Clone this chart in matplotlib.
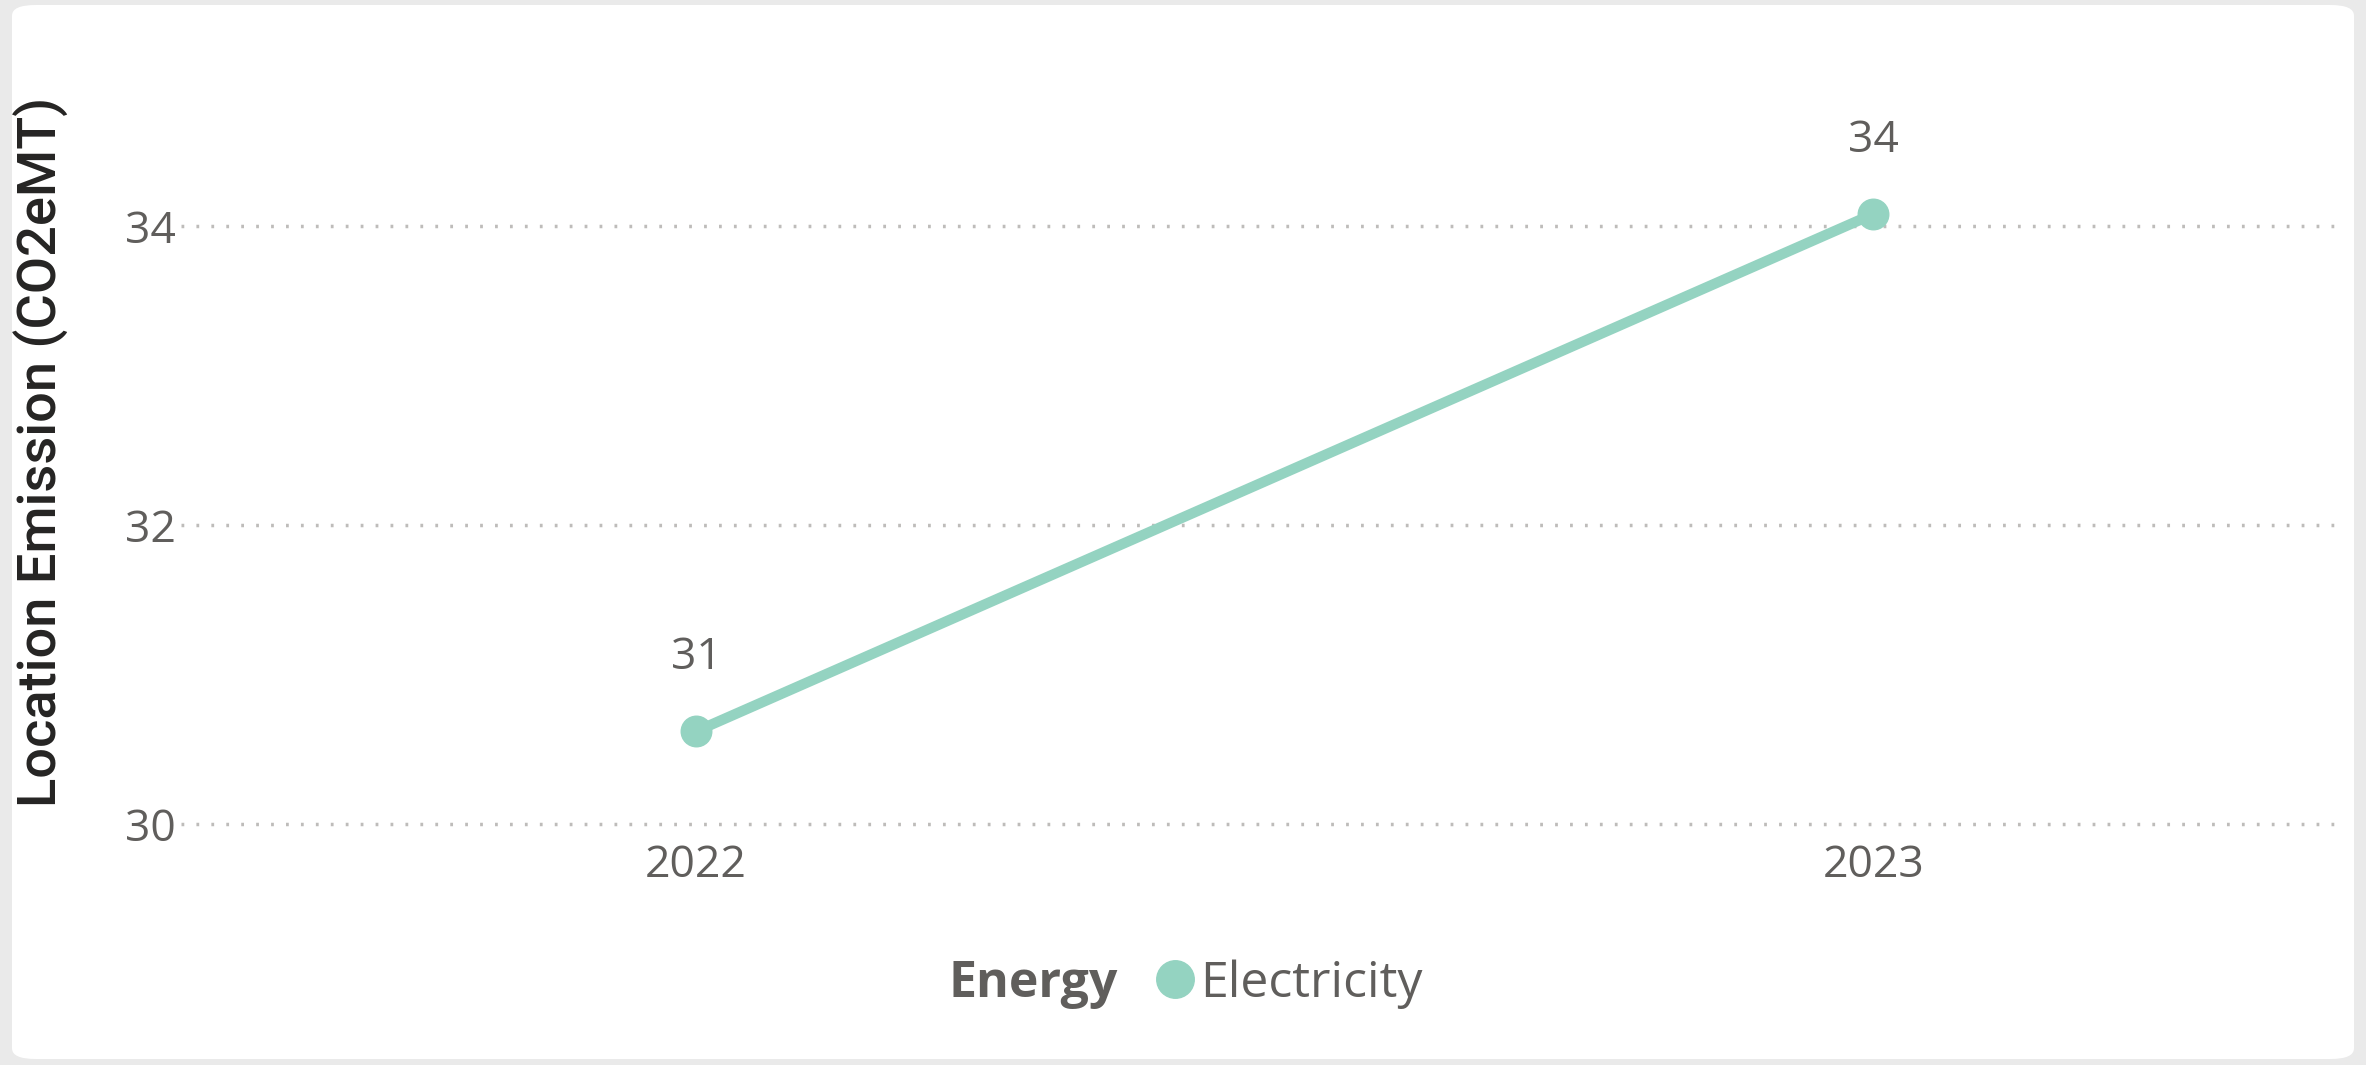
import matplotlib.pyplot as plt
from matplotlib.patches import FancyBboxPatch
from matplotlib.lines import Line2D

# data
years = ['2022', '2023']
emission = [30.62, 34.08]
labels = ['31', '34']
series_name = 'Electricity'
legend_title = 'Energy'
y_ticks = [30, 32, 34]

line_col = '#94D3C1'
text_col = '#605E5C'
grid_col = '#BEBCBA'

W, H = 2366, 1065
fig = plt.figure(figsize=(W / 100, H / 100), dpi=100)
fig.patch.set_facecolor('#EAEAEA')

# white card behind everything
card = FancyBboxPatch((12 / W, 6 / H), 2342 / W, 1054 / H,
                      boxstyle='round,pad=0,rounding_size=0.01',
                      transform=fig.transFigure, facecolor='white',
                      edgecolor='none', zorder=-10)
fig.patches.append(card)

ax = fig.add_axes([181 / W, 1 - 824 / H, (2336 - 181) / W, (824 - 76.5) / H])
ax.set_facecolor('none')

x = list(range(len(years)))
ax.plot(x, emission, color=line_col, lw=7.5, marker='o', ms=22,
        solid_capstyle='round', zorder=3)
for xi, yi, lab in zip(x, emission, labels):
    ax.annotate(lab, (xi, yi), xytext=(0, 53), textcoords='offset points',
                ha='center', va='center', fontsize=32, color=text_col,
                family='Open Sans')

ax.set_xlim(-0.4375, 1.393)
ax.set_ylim(30, 35)
ax.set_xticks(x)
ax.set_xticklabels(years)
ax.set_yticks(y_ticks)
ax.set_yticklabels([str(t) for t in y_ticks])
ax.tick_params(length=0, labelsize=32, labelcolor=text_col)
ax.tick_params(axis='x', pad=14)
ax.tick_params(axis='y', pad=4)
for lab in ax.get_xticklabels() + ax.get_yticklabels():
    lab.set_family('Open Sans')
for s in ax.spines.values():
    s.set_visible(False)
ax.yaxis.grid(True, color=grid_col, lw=2.5, linestyle=(0, (0.8, 3.5)),
              clip_on=False)
ax.set_axisbelow(True)

fig.text(41 / W, 1 - 452 / H, 'Location Emission (CO2eMT)', rotation=90,
         ha='center', va='center', fontsize=39, color='#252423',
         family='Roboto', fontweight='medium')

# legend
fig.text(948 / W, 1 - 984 / H, legend_title, ha='left', va='center',
         fontsize=36, fontweight='bold', color=text_col, family='Open Sans')
handle = Line2D([], [], color=line_col, marker='o', ms=27, lw=0)
fig.legend(handles=[handle], labels=[series_name], loc='center left',
           bbox_to_anchor=(1150 / W, 1 - 984 / H), frameon=False,
           handletextpad=0.0, handlelength=1.0, borderpad=0, borderaxespad=0,
           prop={'family': 'Open Sans', 'size': 36}, labelcolor=text_col)

fig.savefig('out.png', dpi=100, facecolor=fig.get_facecolor())
